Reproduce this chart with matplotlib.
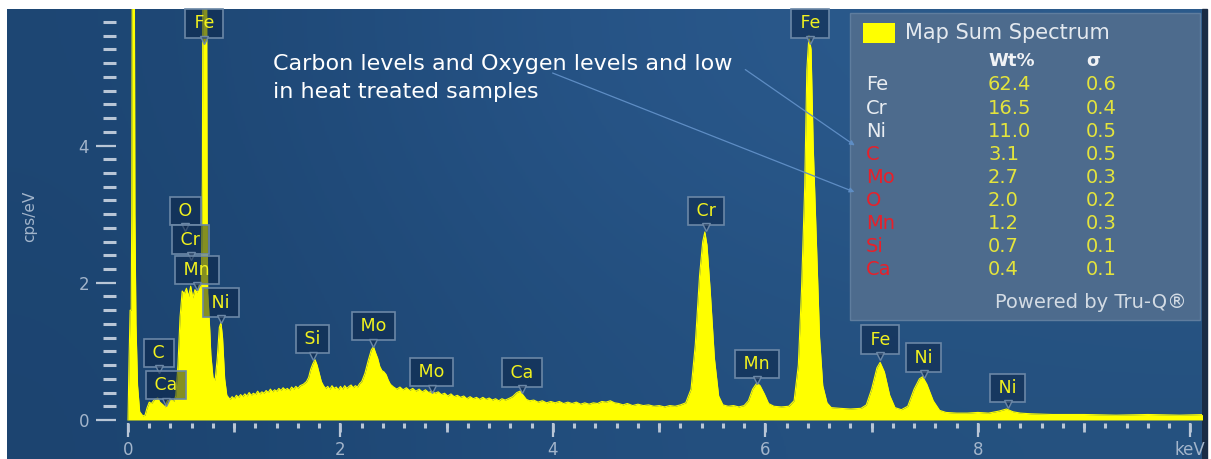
"""
EDS map sum spectrum (cps/eV vs keV) with peak labels, quant table and a note.
"""

import numpy as np
import matplotlib.pyplot as plt
import matplotlib.ticker as mtick
import matplotlib.transforms as mtrans
from matplotlib.patches import FancyBboxPatch, FancyArrowPatch, Rectangle
from matplotlib.colors import to_rgb

# --- spectrum (keV, cps/eV) ---
ENERGY = [
    0.00, 0.01, 0.02, 0.03, 0.035, 0.04, 0.06, 0.065, 0.075, 0.09,
    0.11, 0.14, 0.16, 0.18, 0.20, 0.22, 0.25, 0.28, 0.30, 0.33,
    0.35, 0.37, 0.40, 0.43, 0.45, 0.47, 0.49, 0.51, 0.53, 0.55,
    0.57, 0.59, 0.61, 0.63, 0.65, 0.67, 0.69, 0.70, 0.705, 0.74,
    0.745, 0.75, 0.76, 0.77, 0.78, 0.80, 0.82, 0.84, 0.86, 0.875,
    0.89, 0.91, 0.93, 0.96, 0.98, 1.00, 1.02, 1.04, 1.06, 1.08,
    1.10, 1.12, 1.14, 1.16, 1.18, 1.20, 1.22, 1.24, 1.26, 1.28,
    1.30, 1.32, 1.34, 1.36, 1.38, 1.40, 1.42, 1.44, 1.46, 1.48,
    1.50, 1.52, 1.54, 1.56, 1.58, 1.60, 1.62, 1.65, 1.68, 1.70,
    1.72, 1.74, 1.76, 1.78, 1.80, 1.82, 1.84, 1.86, 1.88, 1.90,
    1.92, 1.94, 1.96, 1.98, 2.00, 2.02, 2.04, 2.06, 2.08, 2.10,
    2.12, 2.14, 2.16, 2.18, 2.20, 2.23, 2.26, 2.29, 2.31, 2.33,
    2.35, 2.37, 2.39, 2.41, 2.43, 2.45, 2.47, 2.50, 2.53, 2.56,
    2.59, 2.62, 2.65, 2.68, 2.71, 2.74, 2.77, 2.80, 2.83, 2.86,
    2.89, 2.92, 2.95, 2.98, 3.01, 3.04, 3.07, 3.10, 3.13, 3.16,
    3.19, 3.22, 3.25, 3.28, 3.31, 3.34, 3.37, 3.40, 3.43, 3.46,
    3.49, 3.52, 3.55, 3.58, 3.62, 3.66, 3.69, 3.72, 3.75, 3.78,
    3.82, 3.86, 3.90, 3.94, 3.98, 4.02, 4.06, 4.10, 4.14, 4.18,
    4.22, 4.26, 4.30, 4.34, 4.38, 4.42, 4.46, 4.50, 4.54, 4.58,
    4.62, 4.66, 4.70, 4.75, 4.80, 4.85, 4.90, 4.95, 5.00, 5.05,
    5.10, 5.15, 5.20, 5.25, 5.30, 5.34, 5.38, 5.41, 5.43, 5.45,
    5.48, 5.52, 5.56, 5.60, 5.65, 5.70, 5.75, 5.80, 5.84, 5.88,
    5.92, 5.95, 5.99, 6.03, 6.08, 6.15, 6.22, 6.27, 6.31, 6.34,
    6.37, 6.39, 6.41, 6.43, 6.45, 6.48, 6.51, 6.54, 6.58, 6.62,
    6.70, 6.80, 6.90, 6.95, 7.00, 7.05, 7.08, 7.12, 7.17, 7.22,
    7.28, 7.34, 7.40, 7.45, 7.48, 7.52, 7.58, 7.64, 7.70, 7.80,
    7.90, 8.00, 8.10, 8.20, 8.27, 8.33, 8.40, 8.50, 8.70, 9.00,
    9.30, 9.60, 9.90, 10.15,
]
CPS = [
    0.00, 0.90, 1.60, 1.60, 3.00, 6.50, 6.50, 3.00, 1.40, 0.50,
    0.12, 0.06, 0.07, 0.18, 0.26, 0.24, 0.30, 0.32, 0.26, 0.22,
    0.19, 0.28, 0.30, 0.27, 0.35, 0.80, 1.50, 1.88, 1.84, 1.92,
    1.80, 1.95, 1.78, 1.90, 1.86, 1.97, 1.92, 3.50, 6.50, 6.50,
    3.00, 1.85, 1.60, 1.30, 0.95, 0.62, 0.58, 0.90, 1.35, 1.42,
    1.20, 0.60, 0.36, 0.30, 0.34, 0.31, 0.36, 0.33, 0.37, 0.34,
    0.38, 0.35, 0.40, 0.36, 0.39, 0.37, 0.42, 0.38, 0.41, 0.39,
    0.43, 0.40, 0.45, 0.41, 0.44, 0.42, 0.46, 0.43, 0.47, 0.44,
    0.46, 0.43, 0.48, 0.45, 0.49, 0.46, 0.50, 0.52, 0.56, 0.62,
    0.74, 0.82, 0.88, 0.80, 0.68, 0.56, 0.50, 0.46, 0.49, 0.45,
    0.50, 0.46, 0.48, 0.44, 0.49, 0.45, 0.50, 0.46, 0.49, 0.51,
    0.47, 0.50, 0.48, 0.53, 0.56, 0.68, 0.86, 1.02, 1.07, 0.98,
    0.90, 0.78, 0.72, 0.70, 0.66, 0.58, 0.52, 0.48, 0.45, 0.48,
    0.44, 0.47, 0.43, 0.46, 0.42, 0.45, 0.41, 0.44, 0.40, 0.42,
    0.39, 0.41, 0.37, 0.39, 0.35, 0.38, 0.34, 0.36, 0.33, 0.35,
    0.31, 0.34, 0.31, 0.33, 0.30, 0.33, 0.30, 0.32, 0.29, 0.31,
    0.28, 0.31, 0.29, 0.31, 0.34, 0.40, 0.42, 0.36, 0.30, 0.28,
    0.29, 0.26, 0.28, 0.25, 0.27, 0.25, 0.27, 0.24, 0.26, 0.24,
    0.26, 0.23, 0.25, 0.23, 0.25, 0.24, 0.27, 0.26, 0.28, 0.25,
    0.24, 0.22, 0.24, 0.21, 0.23, 0.21, 0.22, 0.20, 0.21, 0.19,
    0.21, 0.20, 0.22, 0.25, 0.45, 1.10, 2.10, 2.60, 2.74, 2.55,
    1.90, 0.90, 0.35, 0.22, 0.20, 0.21, 0.19, 0.21, 0.28, 0.45,
    0.54, 0.50, 0.38, 0.24, 0.20, 0.19, 0.20, 0.28, 0.80, 1.90,
    3.40, 5.10, 5.60, 5.40, 4.00, 2.60, 1.20, 0.50, 0.25, 0.18,
    0.17, 0.16, 0.17, 0.22, 0.45, 0.76, 0.84, 0.70, 0.36, 0.18,
    0.15, 0.20, 0.45, 0.60, 0.63, 0.52, 0.28, 0.14, 0.11, 0.10,
    0.10, 0.11, 0.10, 0.13, 0.16, 0.12, 0.10, 0.09, 0.08, 0.08,
    0.07, 0.08, 0.07, 0.08,
]

# peak labels (element, line energy in keV)
PEAK_ELEMENTS = ['Fe', 'Fe', 'O', 'Cr', 'Mn', 'Ni', 'C', 'Ca', 'Si', 'Mo',
                 'Mo', 'Ca', 'Cr', 'Mn', 'Fe', 'Ni', 'Ni']
PEAK_KEV = [0.715, 6.42, 0.54, 0.59, 0.65, 0.875, 0.29, 0.36, 1.74, 2.31,
            2.86, 3.71, 5.44, 5.92, 7.08, 7.49, 8.28]
# layout: height of each label box centre (cps/eV units)
LABEL_Y = [5.78, 5.78, 3.05, 2.63, 2.19, 1.71, 0.98, 0.51, 1.18, 1.37,
           0.70, 0.69, 3.05, 0.82, 1.17, 0.91, 0.47]

# quantification table
TABLE_ELEMENTS = ['Fe', 'Cr', 'Ni', 'C', 'Mo', 'O', 'Mn', 'Si', 'Ca']
WT_PCT = ['62.4', '16.5', '11.0', '3.1', '2.7', '2.0', '1.2', '0.7', '0.4']
SIGMA = ['0.6', '0.4', '0.5', '0.5', '0.3', '0.2', '0.3', '0.1', '0.1']
FLAGGED = ['C', 'Mo', 'O', 'Mn', 'Si', 'Ca']

NOTE = ['Carbon levels and Oxygen levels and low', 'in heat treated samples']

# --- styling ---
W, H = 1211, 459
YELLOW = '#ffff00'
TICK = '#b9c6d6'
TICKLBL = '#a3b5cb'
LBL_FACE = (0.04, 0.13, 0.26, 0.5)
LBL_EDGE = '#6b87a6'
THIN = '\u2009'


def fx(px):
    return px / W


def fy(py):
    return 1 - py / H


def main():
    assert len(ENERGY) == len(CPS)
    fig = plt.figure(figsize=(W / 100, H / 100), dpi=100, facecolor='white')

    # blue gradient backdrop
    bg = fig.add_axes([fx(7), 0, fx(1202) - fx(7), fy(9)])
    bg.set_axis_off()
    corners = np.array([
        [to_rgb('#1d4673'), to_rgb('#28568a'), to_rgb('#2c5b8c')],
        [to_rgb('#1c4470'), to_rgb('#234f7f'), to_rgb('#25517f')],
    ])
    bg.imshow(corners, aspect='auto', interpolation='bicubic',
              extent=[0, 1, 0, 1])
    fig.add_artist(Rectangle((fx(1202), 0), fx(1207) - fx(1202), fy(9),
                             transform=fig.transFigure, color='#1a2c45',
                             zorder=0))

    ax = fig.add_axes([fx(116), fy(423), fx(1202) - fx(116), fy(9) - fy(423)])
    ax.patch.set_visible(False)
    for s in ax.spines.values():
        s.set_visible(False)

    ax.fill_between(ENERGY, 0, CPS, color=YELLOW, lw=0, zorder=2)
    ax.plot(ENERGY, CPS, color=YELLOW, lw=0.8, zorder=2)

    ax.set_xlim(-0.113, 10.11)
    ax.set_ylim(-0.044, 5.99)

    ax.xaxis.set_major_locator(mtick.MultipleLocator(2))
    ax.xaxis.set_minor_locator(mtick.MultipleLocator(0.2))
    ax.xaxis.set_major_formatter(mtick.FuncFormatter(
        lambda v, p: 'keV' if v >= 9.9 else f'{v:.0f}'))
    ax.yaxis.set_major_locator(mtick.MultipleLocator(2))
    ax.yaxis.set_minor_locator(mtick.MultipleLocator(0.2))

    ax.tick_params(axis='x', which='major', length=10, width=1.6, color=TICK,
                   labelcolor=TICKLBL, labelsize=12, pad=3)
    ax.tick_params(axis='x', which='minor', length=3.6, width=2.2, color=TICK)
    ax.tick_params(axis='y', which='major', length=14.4, width=1.6, color=TICK,
                   labelcolor=TICKLBL, labelsize=12, pad=5)
    ax.tick_params(axis='y', which='minor', length=9.4, width=2.2, color=TICK)

    sec = ax.secondary_xaxis('bottom')
    sec.xaxis.set_major_locator(mtick.MultipleLocator(1))
    sec.tick_params(length=6.5, width=2, color=TICK, labelbottom=False)
    sec.spines['bottom'].set_visible(False)

    ax.set_ylabel('cps/eV', color=TICKLBL, fontsize=11, labelpad=30)

    # peak labels with small pointer
    tip = mtrans.offset_copy(ax.transData, fig=fig, y=-12, units='points')
    for el, e, ly in zip(PEAK_ELEMENTS, PEAK_KEV, LABEL_Y):
        ax.text(e, ly, f'{THIN}{el}{THIN}', ha='center', va='center',
                color='#f2f21e', fontsize=12.5, zorder=5,
                bbox=dict(boxstyle='square,pad=0.3', fc=LBL_FACE,
                          ec=LBL_EDGE, lw=1.2))
        ax.plot(e, ly, marker='v', ms=6, mfc=LBL_FACE, mec=LBL_EDGE,
                mew=1.0, transform=tip, zorder=5, clip_on=False)

    # quant panel
    fig.add_artist(FancyBboxPatch((fx(850), fy(320)), fx(1200) - fx(850),
                                  fy(13) - fy(320), boxstyle='square,pad=0',
                                  transform=fig.transFigure, fc='#4d6b8d',
                                  ec='#5f7d9e', lw=1.0, zorder=3))
    fig.add_artist(Rectangle((fx(863), fy(43)), fx(895) - fx(863),
                             fy(23) - fy(43), transform=fig.transFigure,
                             fc=YELLOW, ec='none', zorder=4))
    fig.text(fx(905), fy(33), 'Map Sum Spectrum', color='#e4e9ef',
             fontsize=15, va='center', ha='left', zorder=4)
    fig.text(fx(988), fy(61), 'Wt%', color='#f0f2f5', fontsize=13,
             fontweight='bold', va='center', zorder=4)
    fig.text(fx(1086), fy(61), 'σ', color='#f0f2f5', fontsize=13,
             fontweight='bold', va='center', zorder=4)
    for i, (el, wt, sg) in enumerate(zip(TABLE_ELEMENTS, WT_PCT, SIGMA)):
        y = fy(85 + i * 23.1)
        c = '#e8202a' if el in FLAGGED else '#e9edf2'
        fig.text(fx(866), y, el, color=c, fontsize=14, va='center', zorder=4)
        fig.text(fx(988), y, wt, color='#e4e43c', fontsize=14, va='center',
                 zorder=4)
        fig.text(fx(1086), y, sg, color='#e4e43c', fontsize=14, va='center',
                 zorder=4)
    fig.text(fx(1187), fy(302), 'Powered by Tru-Q®', color='#d3dbe4',
             fontsize=14, ha='right', va='center', zorder=4)

    # note with arrows
    for i, line in enumerate(NOTE):
        fig.text(fx(273), fy(64 + i * 28), line, color='white', fontsize=16,
                 family='DejaVu Sans', va='center', ha='left', zorder=4)
    for start, end in [((743, 68), (857, 147)), ((550, 72), (857, 193))]:
        fig.add_artist(FancyArrowPatch(
            (fx(start[0]), fy(start[1])), (fx(end[0]), fy(end[1])),
            transform=fig.transFigure, arrowstyle='-|>', mutation_scale=7,
            color='#5e8dc4', lw=0.9, zorder=6))

    fig.savefig('out.png', dpi=100, facecolor='white')
    plt.close(fig)


if __name__ == '__main__':
    main()
